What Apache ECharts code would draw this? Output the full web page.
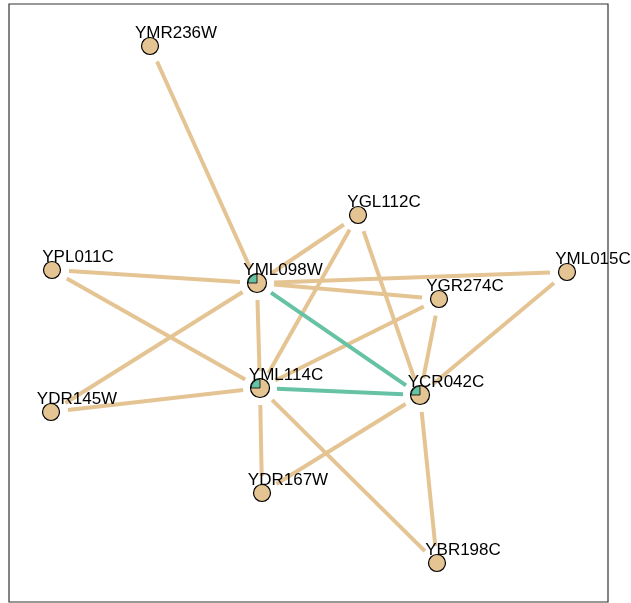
<!DOCTYPE html>
<html>
<head>
<meta charset="utf-8">
<script src="https://cdn.jsdelivr.net/npm/echarts@6/dist/echarts.min.js"></script>
<style>
  html, body { margin: 0; padding: 0; background: #fff; }
  #net { width: 631px; height: 603px; }
</style>
</head>
<body>
<div id="net"></div>
<script>
// gene nodes: layout position (x right, y down) and share of the green slice
const nodeNames = ["YMR236W", "YGL112C", "YPL011C", "YML098W", "YML015C", "YGR274C",
                   "YML114C", "YCR042C", "YDR145W", "YDR167W", "YBR198C"];
const nodeX = [141, 349, 43, 248, 558, 430, 251, 411, 42, 253, 428];
const nodeY = [42, 211, 266, 279, 268, 295, 384, 391, 408, 489, 559];
const greenShare = [0, 0, 0, 0.25, 0, 0, 0.25, 0.25, 0, 0, 0];

// interactions
const edgeFrom = ["YMR236W", "YGL112C", "YPL011C", "YML098W", "YML098W", "YML098W", "YML098W",
                  "YPL011C", "YGL112C", "YGR274C", "YDR145W", "YML114C", "YML114C",
                  "YGL112C", "YGR274C", "YML015C", "YDR167W", "YCR042C",
                  "YML098W", "YML114C"];
const edgeTo = ["YML098W", "YML098W", "YML098W", "YML015C", "YGR274C", "YDR145W", "YML114C",
                "YML114C", "YML114C", "YML114C", "YML114C", "YDR167W", "YBR198C",
                "YCR042C", "YCR042C", "YCR042C", "YCR042C", "YBR198C",
                "YCR042C", "YCR042C"];
const edgeShared = [0, 0, 0, 0, 0, 0, 0, 0, 0, 0, 0, 0, 0, 0, 0, 0, 0, 0, 1, 1];

const TAN = "#E5C494";
const GREEN = "#66C2A5";

const idx = {};
nodeNames.forEach((n, i) => { idx[n] = i; });

const edgeData = edgeFrom.map((a, i) => {
  const s = idx[a], t = idx[edgeTo[i]];
  return [nodeX[s], nodeY[s], nodeX[t], nodeY[t], edgeShared[i]];
});
// draw shared (green) edges last
edgeData.sort((a, b) => a[4] - b[4]);

const nodeData = nodeNames.map((n, i) => ({
  name: n,
  value: [nodeX[i], nodeY[i]],
  symbolSize: greenShare[i] > 0 ? 19 : 17
}));

const pieData = [];
nodeNames.forEach((n, i) => {
  if (greenShare[i] > 0) pieData.push([nodeX[i], nodeY[i], greenShare[i]]);
});

const chart = echarts.init(document.getElementById("net"));
chart.setOption({
  animation: false,
  grid: {
    left: 9, top: 4, right: 23, bottom: 1,
    show: true,
    borderColor: "#333",
    borderWidth: 1.2
  },
  xAxis: { type: "value", min: 0, max: 599, show: false },
  yAxis: { type: "value", min: 0, max: 598, inverse: true, show: false },
  series: [
    {
      type: "custom",
      z: 1,
      data: edgeData,
      renderItem: function (params, api) {
        const p1 = api.coord([api.value(0), api.value(1)]);
        const p2 = api.coord([api.value(2), api.value(3)]);
        const dx = p2[0] - p1[0], dy = p2[1] - p1[1];
        const len = Math.sqrt(dx * dx + dy * dy);
        const gap = 17;
        const ux = dx / len, uy = dy / len;
        return {
          type: "line",
          shape: {
            x1: p1[0] + ux * gap, y1: p1[1] + uy * gap,
            x2: p2[0] - ux * gap, y2: p2[1] - uy * gap
          },
          style: {
            stroke: api.value(4) ? GREEN : TAN,
            lineWidth: 4
          }
        };
      }
    },
    {
      type: "scatter",
      z: 2,
      symbol: "circle",
      data: nodeData,
      itemStyle: { color: TAN, borderColor: "#000", borderWidth: 1.2, opacity: 1 },
      label: {
        show: true,
        position: "inside",
        offset: [26, -13],
        formatter: "{b}",
        color: "#000",
        fontFamily: "Liberation Sans",
        fontSize: 17
      },
      emphasis: { disabled: true }
    },
    {
      type: "custom",
      z: 3,
      data: pieData,
      renderItem: function (params, api) {
        const c = api.coord([api.value(0), api.value(1)]);
        const share = api.value(2);
        return {
          type: "sector",
          shape: {
            cx: c[0], cy: c[1], r0: 0, r: 8.8,
            startAngle: -Math.PI,
            endAngle: -Math.PI + share * Math.PI * 2,
            clockwise: true
          },
          style: { fill: GREEN, stroke: "#000", lineWidth: 0.8 }
        };
      }
    }
  ]
});
</script>
</body>
</html>
